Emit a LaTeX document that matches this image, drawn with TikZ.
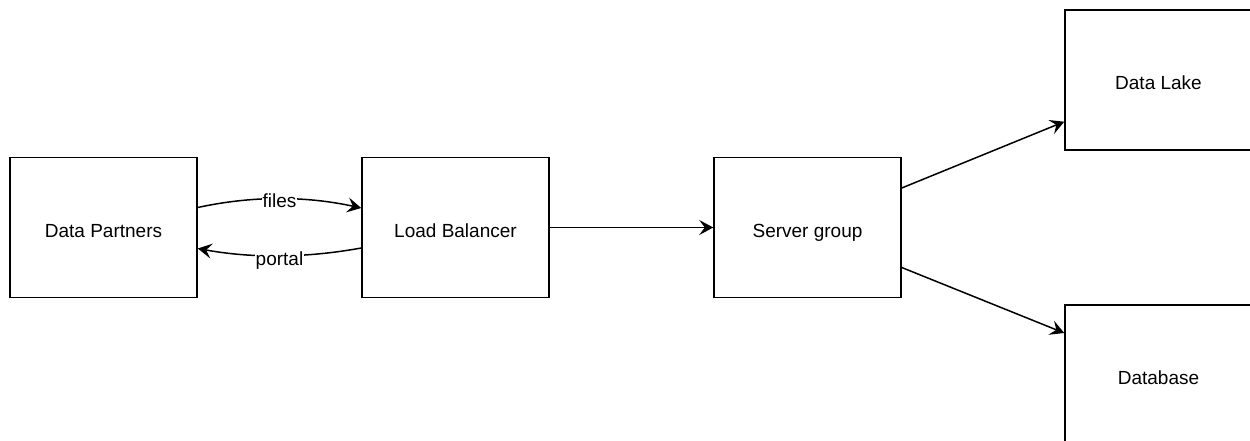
\documentclass[tikz,border=0pt]{standalone}
\usepackage{fontspec}
\setmainfont{Liberation Sans}
\usetikzlibrary{arrows.meta}
\begin{document}
\begin{tikzpicture}[x=1pt,y=-1pt,
  box/.style={draw=black,line width=1.5pt,minimum width=187pt,minimum height=140pt,inner sep=0pt,
    text height=19pt,text depth=0pt,font=\fontsize{19}{22}\selectfont},
  conn/.style={draw=black,line width=1.5pt,-{Stealth[length=14pt,width=15pt,inset=5.5pt]}},
  lbl/.style={fill=white,inner sep=1pt,font=\fontsize{19}{22}\selectfont}]
\useasboundingbox (0,0) rectangle (1250,440);
\node[box] (dp) at (103.5,227.5) {Data Partners};
\node[box] (lb) at (455.5,227.5) {Load Balancer};
\node[box] (sg) at (807.5,227.5) {Server group};
\node[box] (dl) at (1158.5,80) {Data Lake};
\node[box] (db) at (1158.5,375) {Database};
\draw[conn] ([yshift=20pt]dp.east) .. controls +(55,-12) and +(-55,-12) .. ([yshift=19.5pt]lb.west)
  node[lbl,midway,yshift=-2pt] {files};
\draw[conn] ([yshift=-20.5pt]lb.west) .. controls +(-55,10) and +(55,10) .. ([yshift=-21pt]dp.east)
  node[lbl,midway,yshift=-5pt] {portal};
\draw[conn] (lb.east) -- (sg.west);
\draw[conn] ([yshift=39.5pt]sg.east) -- ([yshift=-41.7pt]dl.west);
\draw[conn] ([yshift=-40pt]sg.east) -- ([yshift=42pt]db.west);
\end{tikzpicture}
\end{document}
